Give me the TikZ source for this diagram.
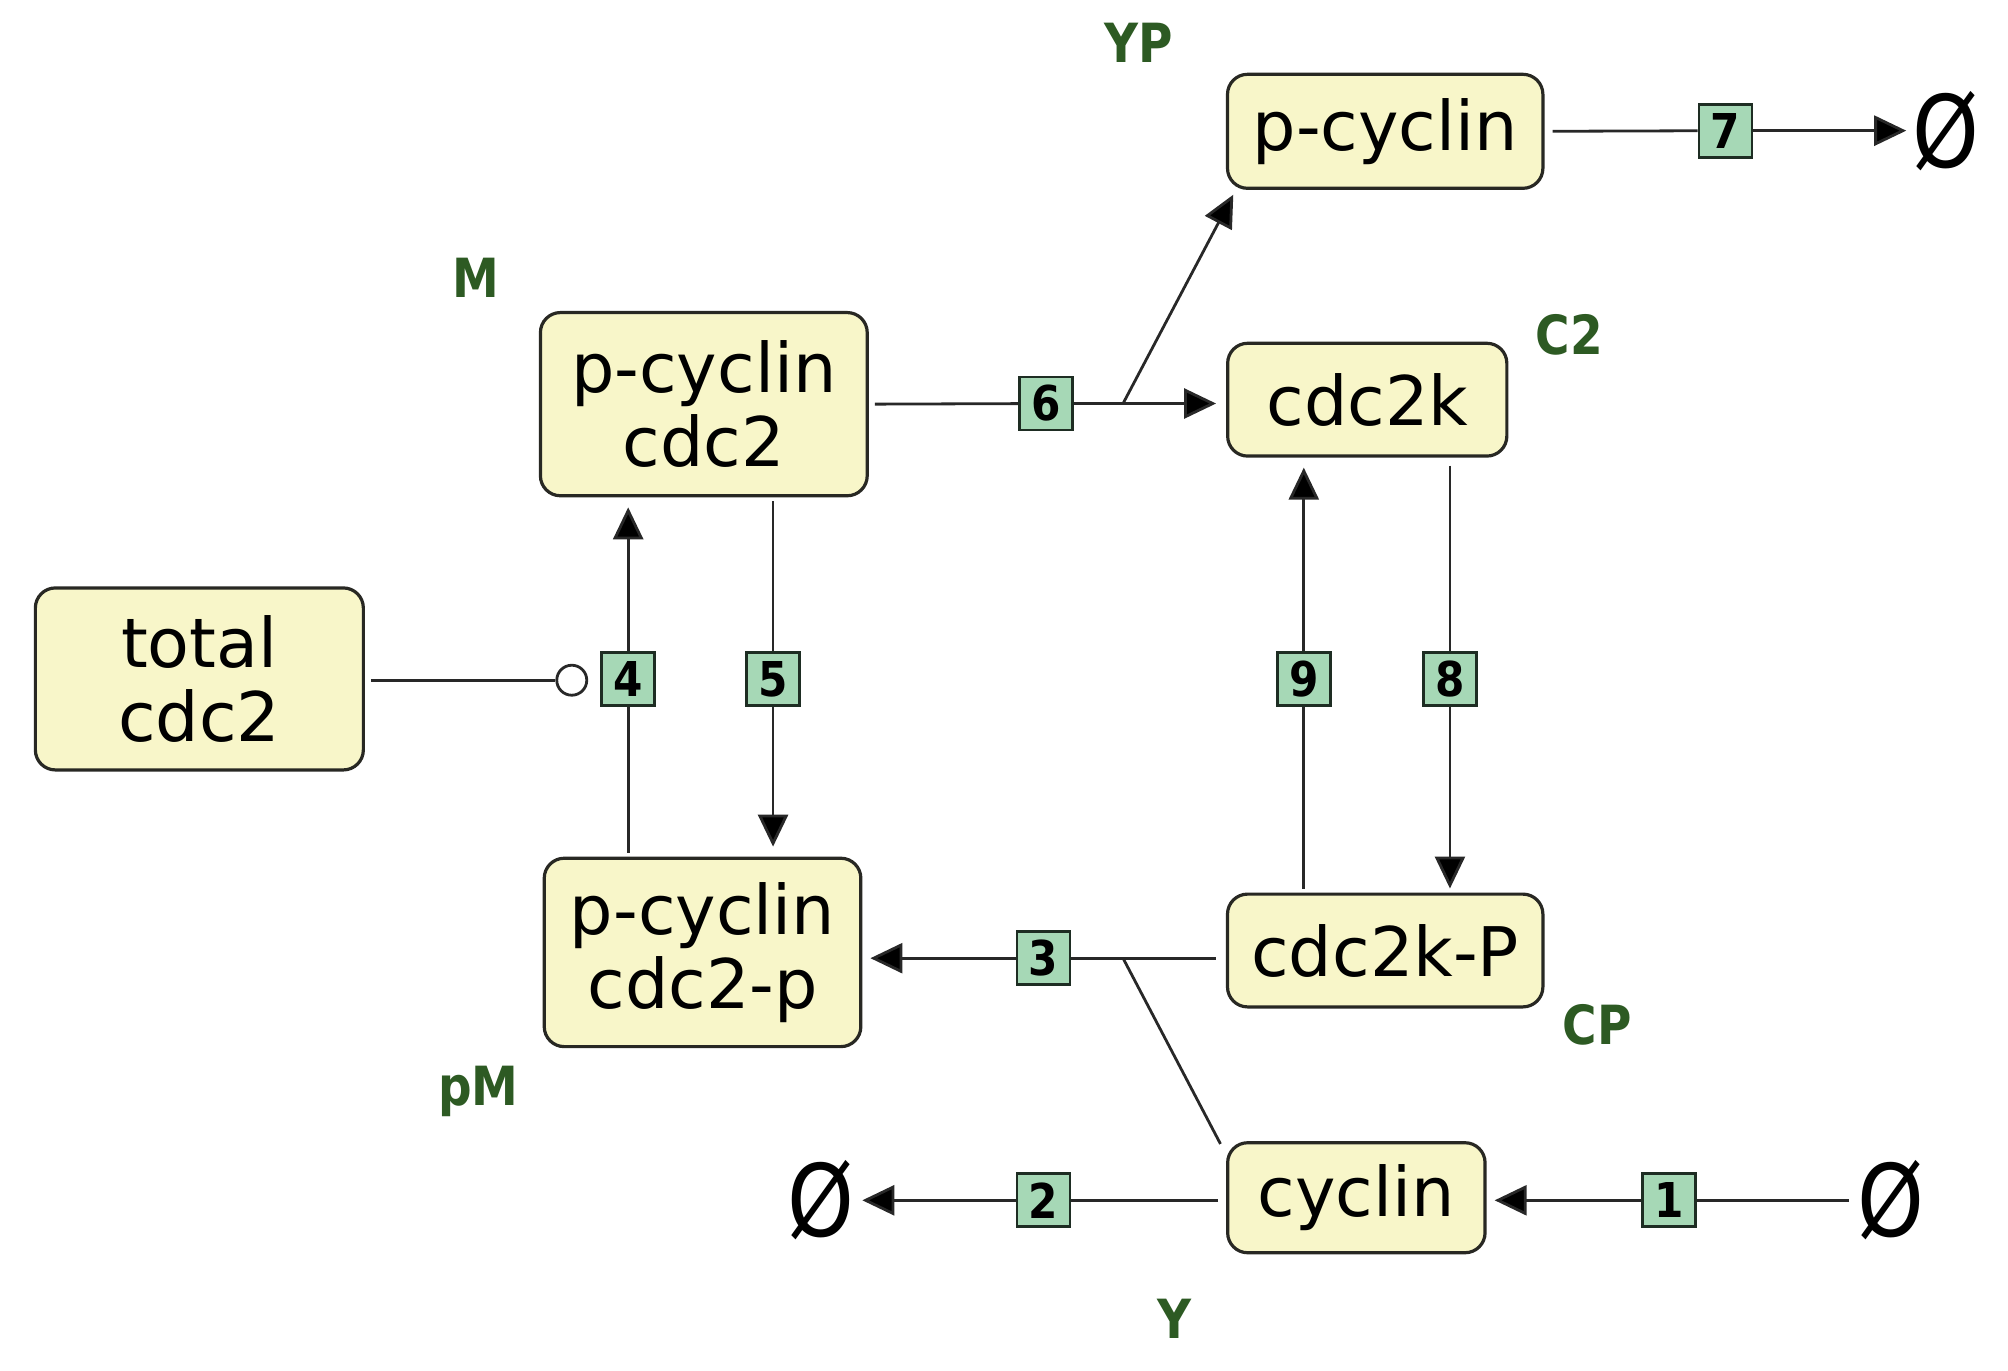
\documentclass[tikz,border=0pt]{standalone}
\usepackage{fontspec}
\setmainfont{DejaVu Sans}
\newfontfamily\numf[FakeStretch=0.88]{DejaVu Sans Bold}
\newfontfamily\labf[FakeStretch=0.87]{DejaVu Sans Bold}
\usetikzlibrary{arrows.meta}
\definecolor{boxfill}{RGB}{248,246,201}
\definecolor{boxline}{RGB}{40,40,35}
\definecolor{rxnfill}{RGB}{166,216,182}
\definecolor{rxnline}{RGB}{30,45,35}
\definecolor{linec}{RGB}{40,40,40}
\definecolor{labgreen}{RGB}{45,90,35}
\begin{document}
\begin{tikzpicture}[x=0.641pt,y=-0.6405pt,
  species/.style={draw=boxline, line width=1.6pt, fill=boxfill, rounded corners=10pt,
    inner sep=0pt, align=center, font=\fontsize{34.2}{37}\selectfont},
  rxn/.style={draw=rxnline, line width=1.4pt, fill=rxnfill, minimum width=26.5pt,
    minimum height=26.5pt, inner sep=0pt, font=\numf\fontsize{24}{24}\selectfont},
  lab/.style={text=labgreen, font=\labf\fontsize{27}{27}\selectfont, inner sep=0pt, anchor=base},
  emp/.style={inner sep=0pt, font=\fontsize{50}{50}\selectfont},
  conn/.style={draw=linec, line width=1.4pt},
  arr/.style={conn, -{Triangle[length=16pt,width=15pt,fill=black]}},
  modc/.style={circle, draw=linec, line width=1.4pt, fill=white, minimum size=15pt, inner sep=0pt},
]
\useasboundingbox (0,0) rectangle (1566.3,1070);

% species
\node[species, minimum width=157.7pt, minimum height=57pt] (YP) at (1080.5,102.5) {p-cyclin};
\node[species, minimum width=163.4pt, minimum height=91.6pt] (M) at (549,315.5) {p-cyclin\\cdc2};
\node[species, minimum width=139.6pt, minimum height=56.4pt] (C2) at (1066.5,312) {cdc2k};
\node[species, minimum width=164pt, minimum height=91pt] (tot) at (155.5,530) {total\\cdc2};
\node[species, minimum width=158.3pt, minimum height=94.2pt] (pM) at (548,743.5) {p-cyclin\\cdc2-p};
\node[species, minimum width=157.7pt, minimum height=56.4pt] (CP) at (1080.5,742) {cdc2k-P};
\node[species, minimum width=128.7pt, minimum height=55pt] (cyc) at (1058,935) {cyclin};

% labels
\node[lab] (lYP) at (888,49) {YP};
\node[lab] (lM) at (371,232) {M};
\node[lab] (lC2) at (1224,277) {C2};
\node[lab] (lCP) at (1246,815) {CP};
\node[lab] (lpM) at (373,863) {pM};
\node[lab] (lY) at (916,1045) {Y};

% empty sets
\node[emp] (e7) at (1518,102) {\scalebox{0.85}[1]{Ø}};
\node[emp] (e2) at (640,937) {\scalebox{0.85}[1]{Ø}};
\node[emp] (e1) at (1475,937) {\scalebox{0.85}[1]{Ø}};

% reaction boxes
\node[rxn] (r7) at (1346,102) {7};
\node[rxn] (r6) at (816,315) {6};
\node[rxn] (r5) at (603,530) {5};
\node[rxn] (r4) at (490,530) {4};
\node[rxn] (r9) at (1017,530) {9};
\node[rxn] (r8) at (1131,530) {8};
\node[rxn] (r3) at (814,748) {3};
\node[rxn] (r2) at (814,937) {2};
\node[rxn] (r1) at (1302,937) {1};

% helper coordinates
\coordinate (b6) at (876,315);
\coordinate (b3) at (876,748);
\coordinate (yptip) at (962,152);
\coordinate (cyctl) at (952,893);
\node[modc] (mc) at (446,531) {};

% reaction 7
\draw[conn, shorten <=4pt] (YP.east) -- (r7);
\draw[arr, shorten >=3pt] (r7) -- (e7);
% reaction 6
\draw[conn, shorten <=3pt] (M.east) -- (r6);
\draw[conn] (r6) -- (b6);
\draw[arr, shorten >=5pt] (b6) -- (C2.west |- b6);
\draw[arr] (b6) -- (yptip);
% reaction 5
\draw[conn, shorten <=2pt] (M.south -| r5) -- (r5);
\draw[arr, shorten >=5pt] (r5) -- (pM.north -| r5);
% reaction 4
\draw[conn, shorten <=2pt] (pM.north -| r4) -- (r4);
\draw[arr, shorten >=5pt] (r4) -- (M.south -| r4);
% modifier
\draw[conn, shorten <=3pt] (tot.east |- mc) -- (mc);
% reaction 9
\draw[conn, shorten <=2pt] (CP.north -| r9) -- (r9);
\draw[arr, shorten >=5pt] (r9) -- (C2.south -| r9);
% reaction 8
\draw[conn, shorten <=4pt] (C2.south -| r8) -- (r8);
\draw[arr, shorten >=2pt] (r8) -- (CP.north -| r8);
% reaction 3
\draw[conn, shorten <=5pt] (CP.west |- r3) -- (b3) -- (r3);
\draw[arr, shorten >=4pt] (r3) -- (pM.east |- r3);
\draw[conn] (cyctl) -- (b3);
% reaction 2
\draw[conn, shorten <=4pt] (cyc.west |- r2) -- (r2);
\draw[arr, shorten >=4pt] (r2) -- (e2);
% reaction 1
\draw[conn, shorten <=4pt] (e1) -- (r1);
\draw[arr, shorten >=4pt] (r1) -- (cyc.east |- r1);
\end{tikzpicture}
\end{document}
